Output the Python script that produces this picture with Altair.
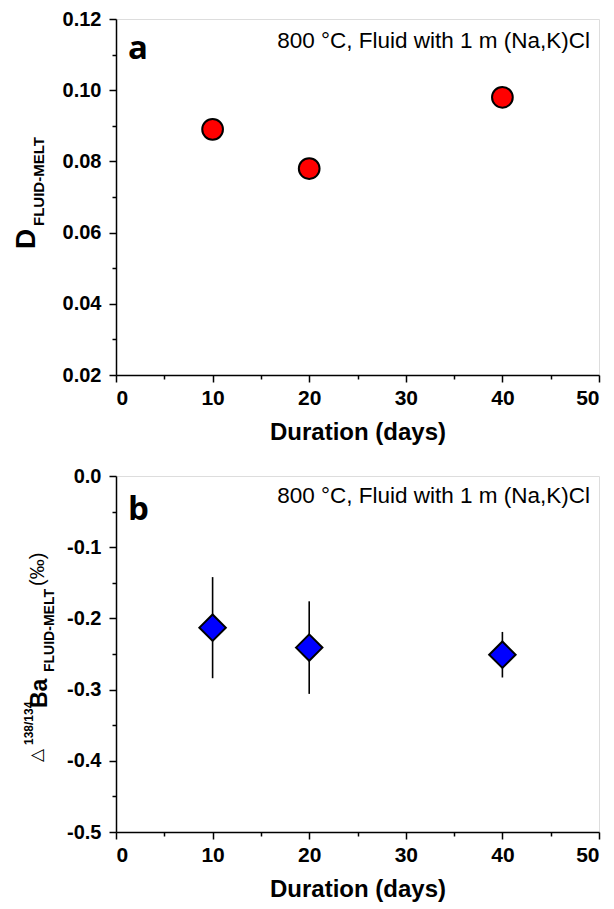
import altair as alt
import pandas as pd

# ---- data ----
days_a = [10, 20, 40]
d_fluid_melt = [0.089, 0.078, 0.098]

days_b = [10, 20, 40]
delta_ba = [-0.213, -0.241, -0.251]
delta_ba_err = [0.071, 0.065, 0.032]

x_ticks = [0, 10, 20, 30, 40, 50]
x_minor = [5, 15, 25, 35, 45]
ya_ticks = [0.02, 0.04, 0.06, 0.08, 0.10, 0.12]
ya_minor = [0.03, 0.05, 0.07, 0.09, 0.11]
yb_ticks = [-0.5, -0.4, -0.3, -0.2, -0.1, 0.0]
yb_minor = [-0.45, -0.35, -0.25, -0.15, -0.05]

annotation = "800 °C, Fluid with 1 m (Na,K)Cl"
x_title = "Duration (days)"

FONT = "Liberation Sans"
W = 483
HA = 356
HB = 356

df_a = pd.DataFrame({"days": days_a, "d": d_fluid_melt})
df_b = pd.DataFrame({
    "days": days_b,
    "v": delta_ba,
    "lo": [v - e for v, e in zip(delta_ba, delta_ba_err)],
    "hi": [v + e for v, e in zip(delta_ba, delta_ba_err)],
})

xscale = alt.Scale(domain=[0, 50], nice=False, zero=False)


def major_x():
    return alt.Axis(values=x_ticks, title=x_title, orient="bottom",
                    labelFont=FONT, labelFontSize=21, labelFontWeight="bold",
                    labelColor="black", titleFont=FONT, titleFontSize=24,
                    titleFontWeight="bold", titleColor="black", titlePadding=12,
                    tickSize=7, tickWidth=1.5, tickColor="black", labelPadding=5,
                    domainColor="black", domainWidth=1.5, grid=False)


def minor_x():
    return alt.Axis(values=x_minor, labels=False, orient="bottom", tickSize=4,
                    tickWidth=1.5, tickColor="black", domain=False, grid=False)


def major_y(vals, fmt_expr):
    return alt.Axis(values=vals, orient="left", labelExpr=fmt_expr,
                    labelFont=FONT, labelFontSize=20, labelFontWeight="bold",
                    labelColor="black", tickSize=7, tickWidth=1.5,
                    tickColor="black", labelPadding=8, domainColor="black",
                    domainWidth=1.5, grid=False)


def minor_y(vals):
    return alt.Axis(values=vals, labels=False, orient="left", tickSize=4,
                    tickWidth=1.5, tickColor="black", domain=False, grid=False)


def txt(s, x, y, size, weight="bold", angle=0, font=FONT, align="left"):
    return alt.Chart(alt.Data(values=[{"t": s}])).mark_text(
        align=align, baseline="alphabetic", angle=angle, fontSize=size,
        fontWeight=weight, font=font, color="black"
    ).encode(x=alt.value(x), y=alt.value(y), text="t:N")


# ---------------- panel a ----------------
ya_scale = alt.Scale(domain=[0.02, 0.12], nice=False, zero=False)
fmt_a = "format(datum.value, '.2f')"

pts_a = alt.Chart(df_a).mark_point(
    shape="circle", filled=True, fill="#ff0000", stroke="black",
    strokeWidth=2, size=430, opacity=1
).encode(
    x=alt.X("days:Q", scale=xscale, axis=major_x()),
    y=alt.Y("d:Q", scale=ya_scale, axis=major_y(ya_ticks, fmt_a), title=None),
)
minor_a = alt.Chart(df_a).mark_point(opacity=0).encode(
    x=alt.X("days:Q", scale=xscale, axis=minor_x(), title=None),
    y=alt.Y("d:Q", scale=ya_scale, axis=minor_y(ya_minor), title=None),
)

panel_a = alt.layer(
    pts_a, minor_a,
    txt("a", 12, 39.5, 33, font="Open Sans"),
    txt(annotation, 474, 28.5, 22.5, weight="normal", align="right"),
    txt("D", -81, 230, 28, angle=270),
    txt("FLUID-MELT", -72, 207, 15, angle=270),
).resolve_axis(x="independent", y="independent").properties(width=W, height=HA)

# ---------------- panel b ----------------
yb_scale = alt.Scale(domain=[-0.5, 0.0], nice=False, zero=False)
fmt_b = "replace(format(datum.value, '.1f'), '\u2212', '-')"

bars_b = alt.Chart(df_b).mark_rule(color="black", strokeWidth=1.6).encode(
    x=alt.X("days:Q", scale=xscale, axis=major_x()),
    y=alt.Y("lo:Q", scale=yb_scale, axis=major_y(yb_ticks, fmt_b), title=None),
    y2="hi:Q",
)
pts_b = alt.Chart(df_b).mark_point(
    shape="diamond", filled=True, fill="#0000ff", stroke="black",
    strokeWidth=2, size=700, opacity=1
).encode(
    x=alt.X("days:Q", scale=xscale),
    y=alt.Y("v:Q", scale=yb_scale),
)
minor_b = alt.Chart(df_b).mark_point(opacity=0).encode(
    x=alt.X("days:Q", scale=xscale, axis=minor_x(), title=None),
    y=alt.Y("v:Q", scale=yb_scale, axis=minor_y(yb_minor), title=None),
)

main_b = alt.layer(bars_b, pts_b)

panel_b = alt.layer(
    main_b, minor_b,
    txt("b", 12, 44, 33, font="Open Sans"),
    txt(annotation, 474, 27, 22.5, weight="normal", align="right"),
    txt("\u25b3", -74, 286, 17, weight="normal", angle=270, font="DejaVu Sans"),
    txt("138/134", -83, 269, 12, angle=270),
    txt("Ba", -69, 232, 23, angle=270),
    txt("FLUID-MELT", -62, 196, 14, angle=270),
    txt("(\u2030)", -72, 110, 20, weight="normal", angle=270),
).resolve_axis(x="independent", y="independent").properties(width=W, height=HB)

chart = alt.vconcat(panel_a, panel_b, spacing=20).properties(
    padding={"left": 4, "top": 0, "right": 5, "bottom": 2}
).configure_view(stroke="black", strokeWidth=1.5).configure(background="white")

chart.save("out.html", embed_options={"renderer": "svg", "actions": False})
